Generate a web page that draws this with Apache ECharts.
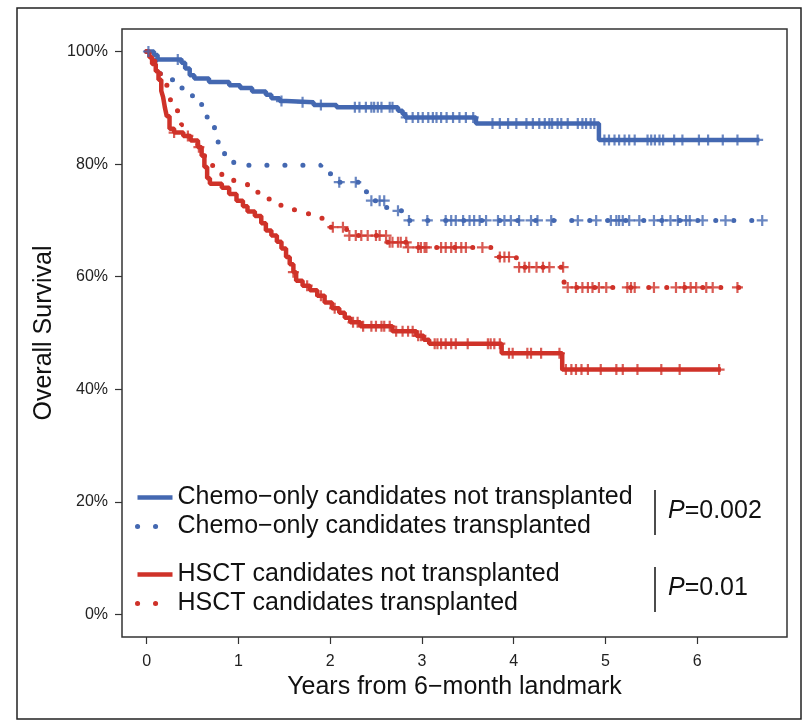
<!DOCTYPE html>
<html>
<head>
<meta charset="utf-8">
<script src="https://cdn.jsdelivr.net/npm/echarts@6/dist/echarts.min.js"></script>
<style>
  html, body { margin: 0; padding: 0; background: #fff; }
  #km { width: 803px; height: 723px; }
</style>
</head>
<body>
<div id="km"></div>
<script>
// Kaplan-Meier curves (time in years, survival in %)

// chemo-only candidates not transplanted (blue solid)
const chemoNoTxTime = [0, 0.08, 0.12, 0.38, 0.42, 0.47, 0.52, 0.68, 0.9, 1.02, 1.15, 1.3, 1.36, 1.45, 1.52, 1.82, 2.07, 2.74, 2.79, 2.82, 3.59, 4.93, 6.68];
const chemoNoTxSurv = [100, 99.4, 98.6, 98.0, 97.0, 95.8, 95.2, 94.6, 94.0, 93.5, 92.9, 92.3, 91.7, 91.2, 91.0, 90.5, 90.1, 89.5, 88.9, 88.3, 87.2, 84.3, 84.3];
const chemoNoTxCens = [0.02, 0.34, 1.47, 1.70, 1.90, 2.27, 2.32, 2.39, 2.45, 2.48, 2.52, 2.56, 2.65, 2.68, 2.83, 2.90, 2.96, 3.01, 3.07, 3.12, 3.16, 3.21, 3.27, 3.34, 3.41, 3.48, 3.56, 3.77, 3.85, 3.94, 4.03, 4.14, 4.21, 4.28, 4.34, 4.39, 4.42, 4.48, 4.52, 4.59, 4.70, 4.75, 4.79, 4.84, 4.88, 4.99, 5.04, 5.10, 5.15, 5.21, 5.26, 5.32, 5.46, 5.50, 5.54, 5.59, 5.63, 5.75, 5.84, 6.02, 6.12, 6.28, 6.44, 6.66];

// chemo-only candidates transplanted (blue dotted)
const chemoTxTime = [0, 0.05, 0.1, 0.15, 0.2, 0.3, 0.4, 0.5, 0.6, 0.66, 0.74, 0.78, 0.85, 0.95, 1.9, 2.05, 2.35, 2.42, 2.6, 2.72, 2.84, 6.71];
const chemoTxSurv = [100, 99, 98, 96, 95, 93.5, 92.5, 91, 90, 88, 86, 83, 81, 79.8, 78.3, 76.8, 75.1, 73.5, 72.3, 71.7, 70, 70];
const chemoTxCens = [2.10, 2.28, 2.45, 2.54, 2.59, 2.74, 2.86, 3.06, 3.26, 3.32, 3.37, 3.45, 3.52, 3.57, 3.63, 3.70, 3.83, 3.90, 3.97, 4.06, 4.19, 4.26, 4.41, 4.70, 4.90, 5.06, 5.12, 5.15, 5.19, 5.26, 5.37, 5.53, 5.62, 5.71, 5.79, 5.88, 5.92, 6.06, 6.31, 6.71];

// HSCT candidates not transplanted (red solid)
const hsctNoTxTime = [0, 0.03, 0.06, 0.1, 0.13, 0.16, 0.18, 0.2, 0.22, 0.25, 0.3, 0.4, 0.48, 0.56, 0.6, 0.63, 0.66, 0.69, 0.82, 0.9, 0.98, 1.05, 1.1, 1.18, 1.25, 1.3, 1.36, 1.42, 1.47, 1.52, 1.56, 1.6, 1.63, 1.7, 1.78, 1.86, 1.94, 2.02, 2.1, 2.16, 2.22, 2.33, 2.68, 2.94, 3.02, 3.08, 3.87, 4.53, 6.26];
const hsctNoTxSurv = [100, 99, 97.8, 96.5, 95, 93, 91.9, 90, 88.5, 86.3, 85.6, 85, 84.2, 83, 81.5, 79.5, 77.5, 76.5, 75.8, 74.7, 73.5, 72.5, 71.6, 70.8, 69.5, 68.2, 67.3, 66.2, 65, 63.5, 62.2, 60.8, 59.3, 58.4, 57.6, 56.6, 55.4, 54.4, 53.6, 52.7, 51.9, 51.2, 50.3, 49.5, 48.8, 48.1, 46.4, 43.5, 43.5];
const hsctNoTxCens = [0.3, 0.45, 0.57, 1.6, 1.75, 1.9, 2.05, 2.25, 2.30, 2.36, 2.45, 2.50, 2.56, 2.59, 2.65, 2.72, 2.79, 2.85, 2.90, 2.96, 2.99, 3.14, 3.17, 3.21, 3.26, 3.32, 3.37, 3.50, 3.72, 3.75, 3.79, 3.85, 3.95, 3.99, 4.15, 4.19, 4.30, 4.50, 4.57, 4.63, 4.68, 4.74, 4.81, 4.95, 5.12, 5.19, 5.35, 5.61, 5.81, 6.24];

// HSCT candidates transplanted (red dotted)
const hsctTxTime = [0, 0.05, 0.09, 0.15, 0.22, 0.26, 0.33, 0.38, 0.45, 0.55, 0.63, 0.72, 0.82, 0.95, 1.1, 1.22, 1.35, 1.5, 1.68, 1.85, 1.96, 2.18, 2.62, 2.84, 3.8, 4.03, 4.55, 6.46];
const hsctTxSurv = [100, 98.5, 97.8, 96, 94, 91, 89.5, 87, 85, 83.5, 81.5, 79.5, 77.5, 76.5, 75, 73.8, 72.7, 71.9, 71.2, 70.4, 68.8, 67.3, 66.1, 65.2, 63.5, 61.7, 58.1, 58.1];
const hsctTxCens = [2.03, 2.14, 2.21, 2.28, 2.34, 2.41, 2.50, 2.54, 2.61, 2.65, 2.68, 2.74, 2.77, 2.83, 2.85, 2.96, 2.99, 3.03, 3.05, 3.21, 3.26, 3.32, 3.37, 3.43, 3.48, 3.66, 3.85, 3.90, 3.95, 4.06, 4.12, 4.17, 4.25, 4.32, 4.39, 4.54, 4.59, 4.68, 4.75, 4.81, 4.86, 4.93, 5.01, 5.24, 5.28, 5.32, 5.53, 5.77, 5.86, 5.93, 5.99, 6.10, 6.17, 6.44];

const groupNames = [
  'Chemo\u2212only candidates not transplanted',
  'Chemo\u2212only candidates transplanted',
  'HSCT candidates not transplanted',
  'HSCT candidates transplanted'
];
const yTicks = [0, 20, 40, 60, 80, 100];
const xTicks = [0, 1, 2, 3, 4, 5, 6];

const BLUE = '#4468b1';
const RED = '#cf3229';
const FONT = 'Liberation Sans, Arial, sans-serif';
const plusSymbol = 'path://M-1,-5H1V-1H5V1H1V5H-1V1H-5V-1H-1Z';

// pair up times and survival values
function pairs(t, s) {
  return t.map((v, i) => [v, s[i]]);
}
// survival value in force at time x (for placing the censoring marks)
function survAt(t, s, x) {
  let v = s[0];
  for (let i = 0; i < t.length; i++) {
    if (t[i] <= x) v = s[i];
  }
  return v;
}
function censPoints(t, s, cens) {
  return cens.map(x => [x, survAt(t, s, x)]);
}

const dotted = { width: 5, type: [0.1, 17.9], cap: 'round' };

function kmLine(name, t, s, color, isDotted) {
  return {
    name: name,
    type: 'line',
    step: 'end',
    data: pairs(t, s),
    symbol: 'none',
    color: color,
    lineStyle: isDotted ? Object.assign({ color: color }, dotted) : { color: color, width: 4.5 },
    z: 3
  };
}
function censMarks(t, s, cens, color) {
  return {
    type: 'scatter',
    data: censPoints(t, s, cens),
    symbol: plusSymbol,
    symbolSize: 11,
    itemStyle: { color: color },
    z: 4,
    silent: true
  };
}

const legendBase = {
  orient: 'vertical',
  left: 135,
  padding: 0,
  itemGap: 4,
  itemWidth: 35, itemHeight: 5,
  itemStyle: { opacity: 0 },
  lineStyle: { width: 'inherit', cap: 'inherit', type: 'inherit' },
  textStyle: { fontSize: 25, lineHeight: 24, color: '#111', fontFamily: FONT },
  selectedMode: false
};

var chart = echarts.init(document.getElementById('km'));

var option = {
  animation: false,
  backgroundColor: '#fff',
  textStyle: { fontFamily: FONT },
  grid: {
    left: 122, right: 16, top: 29, bottom: 86,
    show: true, borderColor: '#333', borderWidth: 1.5,
    containLabel: false
  },
  xAxis: {
    type: 'value',
    min: -0.268, max: 6.98,
    name: 'Years from 6\u2212month landmark',
    nameLocation: 'middle',
    nameGap: 33,
    nameTextStyle: { fontSize: 25, color: '#111', fontFamily: FONT },
    axisLine: { show: false, onZero: false },
    splitLine: { show: false },
    axisTick: { show: true, length: 7, customValues: xTicks, lineStyle: { color: '#333', width: 1.2 } },
    axisLabel: { customValues: xTicks, fontSize: 16, color: '#222', margin: 17, fontFamily: FONT }
  },
  yAxis: {
    type: 'value',
    min: -4, max: 104,
    name: 'Overall Survival',
    nameLocation: 'middle',
    nameGap: 64,
    nameTextStyle: { fontSize: 25, color: '#111', fontFamily: FONT },
    axisLine: { show: false, onZero: false },
    splitLine: { show: false },
    axisTick: { show: true, length: 7, customValues: yTicks, lineStyle: { color: '#333', width: 1.2 } },
    axisLabel: { customValues: yTicks, formatter: '{value}%', fontSize: 16, color: '#222', margin: 14, fontFamily: FONT }
  },
  legend: [
    Object.assign({}, legendBase, { data: [groupNames[0], groupNames[1]], top: 485 }),
    Object.assign({}, legendBase, { data: [groupNames[2], groupNames[3]], top: 562 })
  ],
  graphic: [
    { type: 'rect', shape: { x: 17, y: 8, width: 784, height: 711 }, style: { fill: 'none', stroke: '#222', lineWidth: 1.5 }, silent: true },
    { type: 'line', shape: { x1: 655, y1: 490, x2: 655, y2: 535 }, style: { stroke: '#111', lineWidth: 1.5 } },
    { type: 'line', shape: { x1: 655, y1: 567, x2: 655, y2: 612 }, style: { stroke: '#111', lineWidth: 1.5 } },
    {
      type: 'text', left: 668, top: 499,
      style: {
        text: '{i|P}=0.002', fill: '#111', font: '25px ' + FONT,
        rich: { i: { fontStyle: 'italic', fontSize: 25, fontFamily: FONT } }
      }
    },
    {
      type: 'text', left: 668, top: 576,
      style: {
        text: '{i|P}=0.01', fill: '#111', font: '25px ' + FONT,
        rich: { i: { fontStyle: 'italic', fontSize: 25, fontFamily: FONT } }
      }
    }
  ],
  series: [
    kmLine(groupNames[0], chemoNoTxTime, chemoNoTxSurv, BLUE, false),
    kmLine(groupNames[1], chemoTxTime, chemoTxSurv, BLUE, true),
    kmLine(groupNames[2], hsctNoTxTime, hsctNoTxSurv, RED, false),
    kmLine(groupNames[3], hsctTxTime, hsctTxSurv, RED, true),
    censMarks(chemoNoTxTime, chemoNoTxSurv, chemoNoTxCens, BLUE),
    censMarks(chemoTxTime, chemoTxSurv, chemoTxCens, BLUE),
    censMarks(hsctNoTxTime, hsctNoTxSurv, hsctNoTxCens, RED),
    censMarks(hsctTxTime, hsctTxSurv, hsctTxCens, RED)
  ]
};

chart.setOption(option);
</script>
</body>
</html>
